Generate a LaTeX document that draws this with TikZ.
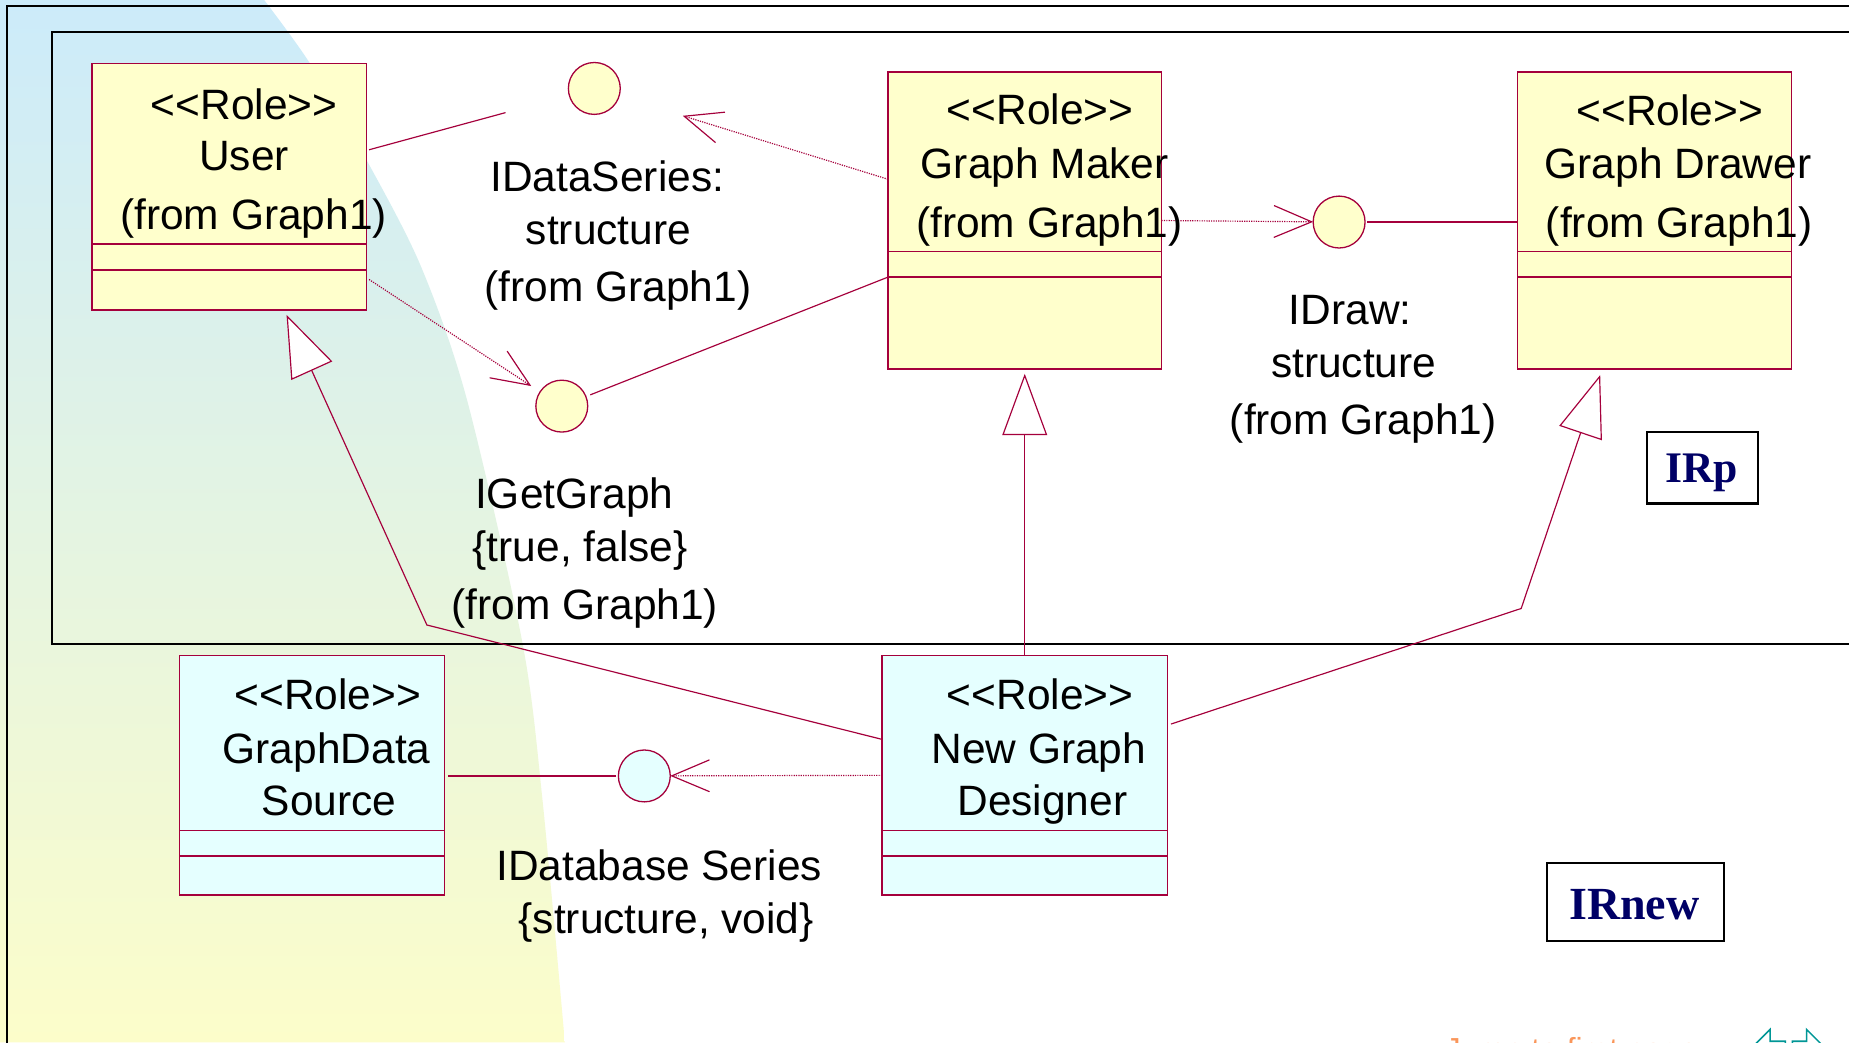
\documentclass[tikz,border=0pt]{standalone}
\usepackage{fontspec}
\setmainfont{Liberation Sans}
\newfontfamily\tagfont{Liberation Serif}
\usetikzlibrary{arrows.meta,calc}

\definecolor{crim}{RGB}{165,0,60}
\definecolor{clsyellow}{RGB}{255,255,204}
\definecolor{clscyan}{RGB}{229,255,255}
\definecolor{tagnavy}{RGB}{0,0,102}
\definecolor{skyblue}{RGB}{204,235,250}
\definecolor{paleyellow}{RGB}{252,253,202}
\definecolor{navorange}{RGB}{250,150,90}
\definecolor{navteal}{RGB}{0,150,150}

% stereotype text, kept as separate angle brackets
\newcommand\role{<\kern0pt<Role>\kern0pt>}

\begin{document}
\begin{tikzpicture}[x=1pt,y=-1pt,
  cls/.style={draw=crim,line width=1.1pt,inner sep=0pt,outer sep=0pt,anchor=north west},
  iface/.style={circle,draw=crim,line width=1.1pt,minimum size=44pt,inner sep=0pt,outer sep=0pt},
  txt/.style={anchor=base,inner sep=0pt,yshift=-1.5pt,font=\fontsize{36}{43}\selectfont},
  conn/.style={draw=crim,line width=1pt},
  dep/.style={conn,dash pattern=on 1pt off 1pt,-{Straight Barb[length=32pt,width=27pt]}},
  gen/.style={conn,-{Triangle[length=52pt,width=38pt,fill=white]}},
  frameline/.style={draw=black,line width=1.8pt},
  tag/.style={draw=black,line width=1.8pt,inner sep=0pt,outer sep=0pt,anchor=north west,fill=white},
  tagtext/.style={anchor=base,inner sep=0pt,text=tagnavy},
]

\useasboundingbox (0,0) rectangle (1568,884);
\clip (0,0) rectangle (1568,884);
\fill[white] (0,0) rectangle (1568,884);

% background swoosh on the left
\shade[top color=skyblue,bottom color=paleyellow]
  (0,0) -- plot[smooth] coordinates {(224,0) (263,54) (311,136) (357,226) (396,339) (443,545) (460,678) (479,884)}
  -- (0,884) -- cycle;

% frames
\draw[frameline] (1575,5) -- (6,5) -- (6,890);
\draw[frameline] (1575,27) -- (44,27) -- (44,546) -- (1575,546);

% class boxes
\node[cls,fill=clsyellow,minimum width=233pt,minimum height=209pt] (user) at (78,54) {};
\node[cls,fill=clsyellow,minimum width=232pt,minimum height=252pt] (gm) at (753,61) {};
\node[cls,fill=clsyellow,minimum width=232pt,minimum height=252pt] (gd) at (1287,61) {};
\node[cls,fill=clscyan,minimum width=225pt,minimum height=203pt] (gds) at (152,556) {};
\node[cls,fill=clscyan,minimum width=242pt,minimum height=203pt] (ngd) at (748,556) {};

% compartment separators
\foreach \b/\p/\q in {user/153/175, gm/152/174, gd/152/174, gds/148/170, ngd/148/170} {
  \draw[crim,line width=1.1pt] ([yshift=-\p pt]\b.north west) -- ([yshift=-\p pt]\b.north east);
  \draw[crim,line width=1.1pt] ([yshift=-\q pt]\b.north west) -- ([yshift=-\q pt]\b.north east);
}

% interfaces
\node[iface,fill=clsyellow] (ids) at (504,75) {};
\node[iface,fill=clsyellow] (igg) at (476.4,344.4) {};
\node[iface,fill=clsyellow] (idraw) at (1135.6,188.3) {};
\node[iface,fill=clscyan] (idb) at (546.4,658) {};

% interface connections
\draw[conn,shorten >=56pt] ([xshift=2pt,yshift=31.5pt]user.east) -- (ids);
\draw[dep,shorten >=56.5pt] ([yshift=35pt]gm.west) -- (ids);
\draw[dep,shorten >=9pt] ([xshift=2pt,yshift=-78.5pt]user.east) -- (igg);
\draw[conn,shorten >=4pt] ([yshift=-48pt]gm.west) -- (igg);
\draw[dep] (gm.east) -- (idraw);
\draw[conn] ([xshift=2pt]idraw.east) -- (idraw.east -| gd.west);
\draw[dep] (ngd.west) -- (idb);
\draw[conn] ([xshift=-2pt]idb.west) -- ([xshift=3pt]idb.west -| gds.east);

% generalizations
\coordinate (bendU) at (362,530);
\coordinate (bendD) at (1290,516);
\draw[gen] ([yshift=30.5pt]ngd.west) -- (bendU) -- ([xshift=48.5pt,yshift=-4pt]user.south);
\draw[gen] (ngd.north) -- ([yshift=-4pt]gm.south);
\draw[gen] ([xshift=3pt,yshift=43.5pt]ngd.east) -- (bendD) -- ([xshift=-46pt,yshift=-5pt]gd.south);

% class texts
\node[txt] (userA) at (207,99.5) {\role};
\node[txt] (userB) at (207,143) {User};
\node[txt] (userC) at (215,193) {(from Graph1)};

\node[txt] (gmA) at (882,104) {\role};
\node[txt] (gmB) at (886,150) {Graph Maker};
\node[txt] (gmC) at (890,199.5) {(from Graph1)};

\node[txt] (gdA) at (1416,105) {\role};
\node[txt] (gdB) at (1423,150) {Graph Drawer};
\node[txt] (gdC) at (1424,199.5) {(from Graph1)};

\node[txt] (gdsA) at (278,600) {\role};
\node[txt] (gdsB) at (277,646) {GraphData};
\node[txt] (gdsC) at (279,690) {Source};

\node[txt] (ngdA) at (882,600) {\role};
\node[txt] (ngdB) at (881,646) {New Graph};
\node[txt] (ngdC) at (884,690) {Designer};

% interface texts
\node[txt] (idsA) at (515,161) {IDataSeries:};
\node[txt] (idsB) at (516,206) {structure};
\node[txt] (idsC) at (524,254) {(from Graph1)};

\node[txt] (iggA) at (487,430) {IGetGraph};
\node[txt] (iggB) at (492,475) {\{true, false\}};
\node[txt] (iggC) at (496,524) {(from Graph1)};

\node[txt] (idrawA) at (1145,274) {IDraw:};
\node[txt] (idrawB) at (1148,319) {structure};
\node[txt] (idrawC) at (1156,367) {(from Graph1)};

\node[txt] (idbA) at (559,745) {IDatabase Series};
\node[txt] (idbB) at (565,790) {\{structure, void\}};

% tags
\node[tag,minimum width=94pt,minimum height=61pt] (irp) at (1397,366) {};
\node[tagtext,font=\tagfont\bfseries\fontsize{37}{44}\selectfont] (irptext) at (1443,409) {IRp};
\node[tag,minimum width=150pt,minimum height=66pt] (irnew) at (1312,732) {};
\node[tagtext,font=\tagfont\bfseries\fontsize{39}{46}\selectfont] (irnewtext) at (1386,780) {IRnew};

% slide navigation at the lower edge
\node[anchor=base west,inner sep=0pt,text=navorange,font=\fontsize{27}{32}\selectfont] (jump) at (1225,899) {Jump to first page};
\draw[navteal,line width=1.3pt] (1514,883) -- (1501,883) -- (1501,873) -- (1478,896) -- (1501,919) -- (1501,909) -- (1514,909) -- cycle;
\draw[navteal,line width=1.3pt] (1520,883) -- (1532,883) -- (1532,873) -- (1555,896) -- (1532,919) -- (1532,909) -- (1520,909) -- cycle;
\end{tikzpicture}
\end{document}
